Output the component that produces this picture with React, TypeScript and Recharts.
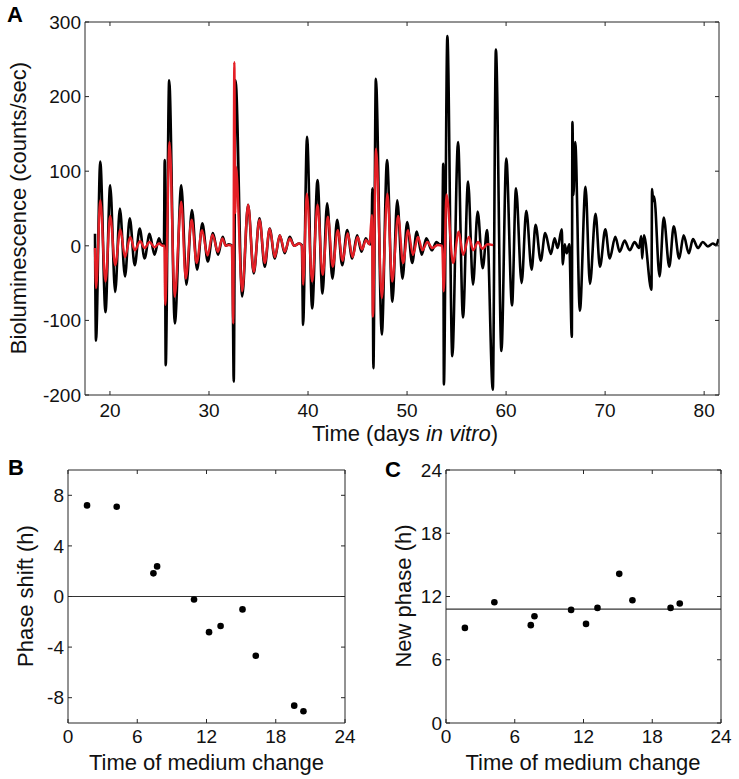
import React from 'react';
import { LineChart, Line, XAxis, YAxis, ScatterChart, Scatter, ReferenceLine } from 'recharts';

const FONT = '"Liberation Sans", Arial, Helvetica, sans-serif';
const AXIS = '#262626';
const TXT = '#111111';

// Panel A: bioluminescence traces (day, counts/sec)
const timeTicks = [20, 30, 40, 50, 60, 70, 80];
const lumTicks = [-200, -100, 0, 100, 200, 300];

const blackTrace: [number, number][] = [
  [18.49, 16], [18.59, -127], [19.02, 113], [19.55, -89], [20.02, 81], [20.53, -62], [21.0, 50],
  [21.52, -41], [22.0, 37], [22.5, -26], [23.0, 23], [23.5, -17], [24.0, 16], [24.5, -12],
  [24.95, 10], [25.2, 2], [25.45, 3], [25.53, 115], [25.63, -160], [25.98, 222], [26.55, -104],
  [27.2, 81], [27.72, -52], [28.28, 48], [28.8, -32], [29.33, 30], [29.88, -21], [30.4, 17],
  [30.92, -12], [31.38, 12], [31.7, 0], [32.0, 2], [32.35, 0], [32.5, -182], [32.68, 222],
  [33.35, -68], [33.95, 55], [34.52, -37], [35.1, 37], [35.63, -28], [36.13, 23], [36.65, -17],
  [37.15, 14], [37.65, -10], [38.15, 12], [38.6, 0], [39.1, 3], [39.38, 1], [39.5, -106],
  [39.9, 146], [40.42, -84], [40.96, 88], [41.46, -64], [41.93, 57], [42.47, -44], [42.94, 35],
  [43.45, -26], [43.95, 21], [44.46, -17], [44.96, 14], [45.4, -8], [45.83, 10], [46.14, 3],
  [46.4, 2], [46.5, 77], [46.6, -164], [46.85, 224], [47.45, -119], [47.98, 115], [48.52, -75],
  [49.01, 61], [49.54, -44], [50.01, 32], [50.52, -23], [50.98, 19], [51.48, -12], [51.95, 10],
  [52.5, -6], [52.97, 5], [53.3, 2], [53.55, 2], [53.65, 110], [53.72, -186], [54.07, 281],
  [54.57, -148], [55.15, 139], [55.65, -96], [56.16, 86], [56.66, -52], [57.13, 46], [57.64, -30],
  [58.08, 21], [58.66, -193], [58.97, 263], [59.53, -141], [60.02, 117], [60.6, -80], [61.0, 77],
  [61.57, -50], [62.04, 47], [62.58, -32], [62.98, 28], [63.5, -20], [63.95, 17], [64.52, -11],
  [64.9, 10], [65.2, -3], [65.62, 22], [65.73, -25], [65.92, 2], [66.12, -10], [66.38, 2],
  [66.64, -122], [66.7, 166], [66.8, 68], [66.98, 139], [67.45, -87], [68.02, 79], [68.47, -51],
  [69.03, 43], [69.48, -28], [70.02, 22], [70.46, -17], [71.03, 12], [71.47, -8], [71.97, 7],
  [72.48, -6], [72.98, 5], [73.42, -3], [73.65, 13], [73.74, -17], [73.92, 14], [74.68, -59],
  [74.74, 76], [74.85, 60], [74.95, 66], [75.5, -41], [75.92, 38], [76.48, -28], [76.93, 26],
  [77.48, -17], [77.93, 14], [78.45, -10], [78.87, 9], [79.37, -3], [79.87, 5], [80.38, -1],
  [80.88, 3], [81.22, 1], [81.45, 9],
];

const redTrace: [number, number][] = [
  [18.49, -3], [18.6, -57], [19.02, 61], [19.55, -48], [20.02, 40], [20.53, -26], [21.05, 22],
  [21.52, -15], [22.05, 12], [22.5, -6], [23.05, 6], [23.5, -3], [24.0, 5], [24.5, -2],
  [24.95, 3], [25.3, 0], [25.5, 0], [25.58, -79], [26.02, 139], [26.53, -68], [27.2, 59],
  [27.65, -44], [28.25, 35], [28.75, -23], [29.3, 21], [29.85, -13], [30.35, 15], [30.9, -8],
  [31.35, 10], [31.7, 0], [32.0, 1], [32.3, 0], [32.45, -104], [32.56, 246], [32.65, 44],
  [32.72, 106], [33.35, -61], [33.95, 55], [34.52, -35], [35.1, 35], [35.63, -23], [36.13, 23],
  [36.65, -15], [37.15, 14], [37.65, -8], [38.15, 10], [38.6, 0], [39.1, 3], [39.38, 0],
  [39.5, -52], [39.88, 70], [40.42, -48], [40.96, 55], [41.48, -39], [42.0, 39], [42.5, -28],
  [43.0, 21], [43.5, -20], [44.0, 17], [44.5, -15], [45.0, 12], [45.45, -5], [45.85, 8],
  [46.2, 2], [46.45, 41], [46.55, -95], [46.87, 130], [47.45, -70], [48.02, 70], [48.5, -48],
  [49.1, 40], [49.6, -23], [50.1, 21], [50.6, -12], [51.1, 12], [51.55, -6], [52.05, 5],
  [52.55, -3], [53.1, 1], [53.55, 0], [53.7, -61], [53.98, 69], [54.65, -23], [55.22, 19],
  [55.66, -12], [56.25, 12], [56.67, -6], [57.17, 5], [57.61, -4], [58.12, 2], [58.69, 1],
];

// Panels B and C: per-culture results
const hourTicks = [0, 6, 12, 18, 24];
const shiftTicks = [-8, -4, 0, 4, 8];
const phaseTicks = [0, 6, 12, 18, 24];
const changeTimes = [1.65, 4.22, 7.4, 7.72, 10.92, 12.22, 13.22, 15.12, 16.27, 19.6, 20.4];
const phaseShifts = [7.2, 7.1, 1.83, 2.38, -0.24, -2.82, -2.33, -1.02, -4.68, -8.63, -9.07];
const newPhases = [9.02, 11.46, 9.28, 10.13, 10.73, 9.4, 10.92, 14.15, 11.65, 10.92, 11.34];
const meanNewPhase = 10.8;

const blackData = blackTrace.map(([t, v]) => ({ t, v }));
const redData = redTrace.map(([t, v]) => ({ t, v }));
const shiftData = changeTimes.map((x, i) => ({ x, y: phaseShifts[i] }));
const phaseData = changeTimes.map((x, i) => ({ x, y: newPhases[i] }));

const tickStyle = { fontSize: 19, fill: TXT, fontFamily: FONT };
const blank = () => '';

const Dot = (props: any) => <circle cx={props.cx} cy={props.cy} r={3.3} fill="#000" />;

export default function App() {
  const labelStyle: React.CSSProperties = { fontFamily: FONT, fontSize: 22, fill: TXT };
  const letterStyle: React.CSSProperties = { fontFamily: FONT, fontSize: 22, fontWeight: 'bold', fill: '#000' };
  return (
    <div style={{ position: 'absolute', left: 0, top: 0, width: 739, height: 779, background: '#fff' }}>
      <div style={{ position: 'absolute', left: 0, top: 0 }}>
        <LineChart width={739} height={445} margin={{ top: 22, right: 20, bottom: 20, left: 25 }}>
          <XAxis type="number" dataKey="t" domain={[17.48, 81.5]} allowDataOverflow ticks={timeTicks}
            interval={0} height={30} tickSize={-4} tickMargin={13} stroke={AXIS} tick={tickStyle} />
          <XAxis xAxisId="top" orientation="top" mirror type="number" dataKey="t" domain={[17.48, 81.5]}
            allowDataOverflow ticks={timeTicks} interval={0} height={1} tickSize={4} stroke={AXIS} tickFormatter={blank} />
          <YAxis type="number" domain={[-200, 300]} allowDataOverflow ticks={lumTicks} interval={0}
            width={60} tickSize={-4} tickMargin={8} stroke={AXIS} tick={tickStyle} />
          <YAxis yAxisId="right" orientation="right" mirror type="number" domain={[-200, 300]} allowDataOverflow
            ticks={lumTicks} interval={0} width={1} tickSize={4} stroke={AXIS} tickFormatter={blank} />
          <Line data={blackData} dataKey="v" type="monotone" stroke="#000" strokeWidth={2.6} dot={false}
            isAnimationActive={false} />
          <Line data={redData} dataKey="v" type="monotone" stroke="#e41f26" strokeWidth={2.4} dot={false}
            isAnimationActive={false} />
        </LineChart>
      </div>
      <div style={{ position: 'absolute', left: 0, top: 450 }}>
        <ScatterChart width={370} height={329} margin={{ top: 20, right: 25, bottom: 26, left: 18 }}>
          <XAxis type="number" dataKey="x" domain={[0, 24]} allowDataOverflow ticks={hourTicks} interval={0}
            height={30} tickSize={-4} tickMargin={11} stroke={AXIS} tick={tickStyle} />
          <XAxis xAxisId="top" orientation="top" mirror type="number" dataKey="x" domain={[0, 24]} allowDataOverflow
            ticks={hourTicks} interval={0} height={1} tickSize={4} stroke={AXIS} tickFormatter={blank} />
          <YAxis type="number" dataKey="y" domain={[-10, 10]} allowDataOverflow ticks={shiftTicks} interval={0}
            width={50} tickSize={-4} tickMargin={8} stroke={AXIS} tick={tickStyle} />
          <YAxis yAxisId="right" orientation="right" mirror type="number" dataKey="y" domain={[-10, 10]}
            allowDataOverflow ticks={shiftTicks} interval={0} width={1} tickSize={4} stroke={AXIS} tickFormatter={blank} />
          <ReferenceLine y={0} stroke="#333" strokeWidth={1.2} />
          <Scatter data={shiftData} shape={Dot} isAnimationActive={false} />
        </ScatterChart>
      </div>
      <div style={{ position: 'absolute', left: 370, top: 450 }}>
        <ScatterChart width={369} height={329} margin={{ top: 20, right: 18, bottom: 26, left: 26 }}>
          <XAxis type="number" dataKey="x" domain={[0, 24]} allowDataOverflow ticks={hourTicks} interval={0}
            height={30} tickSize={-4} tickMargin={11} stroke={AXIS} tick={tickStyle} />
          <XAxis xAxisId="top" orientation="top" mirror type="number" dataKey="x" domain={[0, 24]} allowDataOverflow
            ticks={hourTicks} interval={0} height={1} tickSize={4} stroke={AXIS} tickFormatter={blank} />
          <YAxis type="number" dataKey="y" domain={[0, 24]} allowDataOverflow ticks={phaseTicks} interval={0}
            width={50} tickSize={-4} tickMargin={8} stroke={AXIS} tick={tickStyle} />
          <YAxis yAxisId="right" orientation="right" mirror type="number" dataKey="y" domain={[0, 24]}
            allowDataOverflow ticks={phaseTicks} interval={0} width={1} tickSize={4} stroke={AXIS} tickFormatter={blank} />
          <ReferenceLine y={meanNewPhase} stroke="#333" strokeWidth={1.2} />
          <Scatter data={phaseData} shape={Dot} isAnimationActive={false} />
        </ScatterChart>
      </div>
      <svg width={739} height={779} style={{ position: 'absolute', left: 0, top: 0, pointerEvents: 'none' }}>
        <text x={7} y={22} style={letterStyle}>A</text>
        <text x={8} y={475} style={letterStyle}>B</text>
        <text x={385} y={477} style={letterStyle}>C</text>
        <text x={26} y={208} textAnchor="middle" transform="rotate(-90 26 208)" style={labelStyle}>
          Bioluminescence (counts/sec)
        </text>
        <text x={405} y={441} textAnchor="middle" style={labelStyle}>
          Time (days <tspan fontStyle="italic">in vitro</tspan>)
        </text>
        <text x={33} y={596} textAnchor="middle" transform="rotate(-90 33 596)" style={labelStyle}>
          Phase shift (h)
        </text>
        <text x={206.5} y={770} textAnchor="middle" style={labelStyle}>Time of medium change</text>
        <text x={411} y={596} textAnchor="middle" transform="rotate(-90 411 596)" style={labelStyle}>
          New phase (h)
        </text>
        <text x={583} y={770} textAnchor="middle" style={labelStyle}>Time of medium change</text>
      </svg>
    </div>
  );
}
